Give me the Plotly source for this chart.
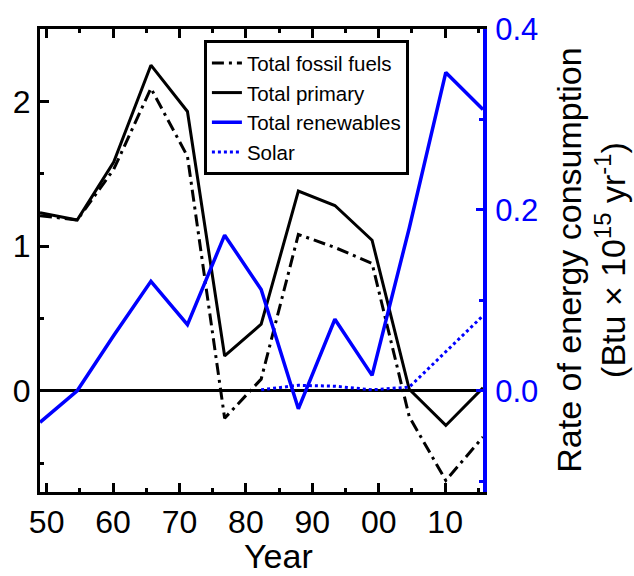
import plotly.graph_objects as go

years = [1949, 1954.6, 1960.1, 1965.7, 1971.2, 1976.8, 1982.3, 1987.9, 1993.4, 1999.0, 2004.6, 2010.1, 2015.7]
fossil = [1.21, 1.18, 1.53, 2.09, 1.62, -0.19, 0.08, 1.08, 0.99, 0.88, -0.18, -0.62, -0.32]
primary = [1.23, 1.18, 1.58, 2.25, 1.93, 0.24, 0.46, 1.38, 1.28, 1.04, 0.01, -0.24, 0.02]
renewables = [-0.035, 0.0, 0.061, 0.121, 0.073, 0.172, 0.112, -0.020, 0.079, 0.017, 0.18, 0.352, 0.311]
solar = [None, None, None, None, None, None, 0.001, 0.006, 0.005, 0.001, 0.004, 0.043, 0.083]

x_tickvals = [1950, 1960, 1970, 1980, 1990, 2000, 2010]
x_ticktext = ["50", "60", "70", "80", "90", "00", "10"]
x_minor = [1955, 1965, 1975, 1985, 1995, 2005, 2015]
y_tickvals = [0, 1, 2]
y_ticktext = ["0", "1", "2"]
y_minor = [-0.5, 0.5, 1.5]
y2_tickvals = [0.0, 0.2, 0.4]
y2_ticktext = ["0.0", "0.2", "0.4"]
y2_minor = [-0.1, 0.1, 0.3]

FONT = "Liberation Sans, Arial, sans-serif"
BLUE = "#0000FF"

fig = go.Figure()
fig.add_trace(go.Scatter(x=years, y=fossil, mode="lines", name="Total fossil fuels",
                         line=dict(color="black", width=3, dash="12px,5px,3px,5px")))
fig.add_trace(go.Scatter(x=years, y=primary, mode="lines", name="Total primary",
                         line=dict(color="black", width=3)))
fig.add_trace(go.Scatter(x=years, y=renewables, mode="lines", name="Total renewables",
                         line=dict(color=BLUE, width=3.5), yaxis="y2"))
fig.add_trace(go.Scatter(x=years, y=solar, mode="lines", name="Solar",
                         line=dict(color=BLUE, width=3, dash="dot"), yaxis="y2"))

fig.update_layout(
    width=634, height=576,
    margin=dict(l=40, r=151, t=23, b=84),
    paper_bgcolor="white", plot_bgcolor="white",
    font=dict(family=FONT, color="black"),
    showlegend=True,
    legend=dict(x=0.370, y=0.976, xanchor="left", yanchor="top",
                bgcolor="white", bordercolor="black", borderwidth=3,
                font=dict(size=20.5, family=FONT), itemwidth=30, tracegroupgap=0),
    xaxis=dict(range=[1949, 2015.7], showgrid=False, zeroline=False,
               showline=True, linecolor="black", linewidth=3, mirror="ticks",
               ticks="inside", ticklen=9, tickwidth=2.5, tickcolor="black",
               tickmode="array", tickvals=x_tickvals, ticktext=x_ticktext,
               minor=dict(tickmode="array", tickvals=x_minor, ticks="inside",
                          ticklen=4, tickwidth=2.5, tickcolor="black"),
               tickfont=dict(size=32, family=FONT, color="black")),
    yaxis=dict(range=[-0.7, 2.5], showgrid=False,
               zeroline=True, zerolinecolor="black", zerolinewidth=3,
               showline=True, linecolor="black", linewidth=3,
               ticks="inside", ticklen=9, tickwidth=2.5, tickcolor="black",
               tickmode="array", tickvals=y_tickvals, ticktext=y_ticktext,
               minor=dict(tickmode="array", tickvals=y_minor, ticks="inside",
                          ticklen=4, tickwidth=2.5, tickcolor="black"),
               tickfont=dict(size=32, family=FONT, color="black")),
    yaxis2=dict(range=[-0.112, 0.4], overlaying="y", side="right",
                showgrid=False, zeroline=False,
                showline=True, linecolor=BLUE, linewidth=4,
                ticks="inside", ticklen=7, tickwidth=2.5, tickcolor=BLUE,
                tickmode="array", tickvals=y2_tickvals, ticktext=y2_ticktext,
                ticklabelstandoff=2,
                minor=dict(tickmode="array", tickvals=y2_minor, ticks="inside",
                           ticklen=4, tickwidth=2.5, tickcolor=BLUE),
                tickfont=dict(size=31, family=FONT, color=BLUE)),
    annotations=[
        dict(text="Year", xref="paper", yref="paper", x=0.539, y=-0.139,
             xanchor="center", yanchor="middle", showarrow=False,
             font=dict(size=34, family=FONT, color="black")),
        dict(text="Rate of energy consumption<br>(Btu × 10<sup>15</sup> yr<sup>-1</sup>)",
             xref="paper", yref="paper", x=1.242, y=0.5, textangle=-90,
             xanchor="center", yanchor="middle", showarrow=False,
             font=dict(size=34, family=FONT, color="black")),
    ],
)

fig.write_html("out.html")
